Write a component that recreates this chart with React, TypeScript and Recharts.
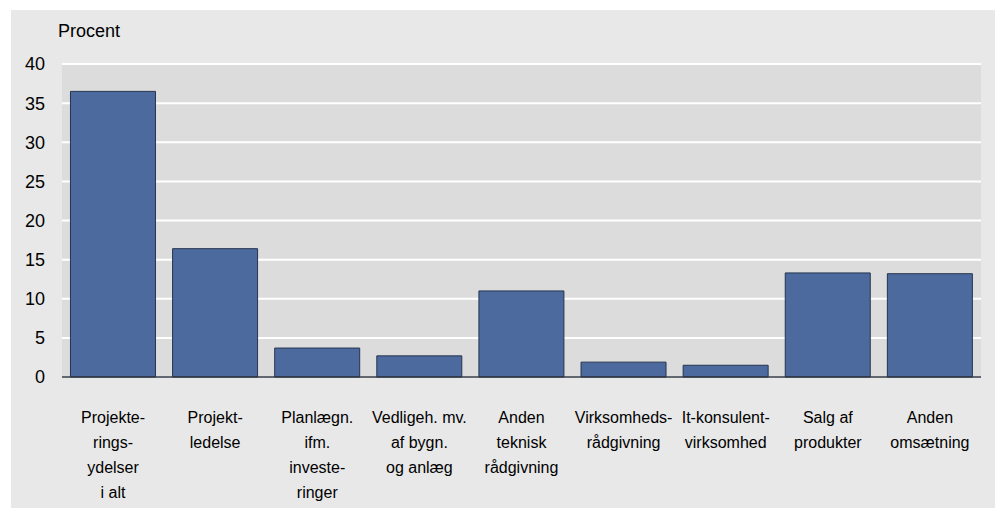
import { BarChart, Bar, XAxis, YAxis, CartesianGrid } from 'recharts';

// Categories (line breaks as in the source figure)
const categories = [
  'Projekte-\nrings-\nydelser\ni alt',
  'Projekt-\nledelse',
  'Planlægn.\nifm.\ninveste-\nringer',
  'Vedligeh. mv.\naf bygn.\nog anlæg',
  'Anden\nteknisk\nrådgivning',
  'Virksomheds-\nrådgivning',
  'It-konsulent-\nvirksomhed',
  'Salg af\nprodukter',
  'Anden\nomsætning',
];

// Share of turnover, percent
const shares = [36.5, 16.4, 3.7, 2.7, 11.0, 1.9, 1.5, 13.3, 13.2];

const yTicks = [0, 5, 10, 15, 20, 25, 30, 35, 40];

const data = categories.map((name, i) => ({ name, value: shares[i] }));

const FONT = '"Liberation Sans", Arial, sans-serif';

const COLORS = {
  panel: '#e8e8e8',
  plot: '#dcdcdc',
  bar: '#4d6a9f',
  barEdge: '#25344f',
  axis: '#2e3440',
  text: '#000000',
};

// Multi-line category label under each bar
const CategoryTick = ({ x, y, payload }: any) => {
  const lines = String(payload.value).split('\n');
  return (
    <text x={x} y={y + 46} textAnchor="middle" fontSize={16} fontFamily={FONT} fill={COLORS.text}>
      {lines.map((line, i) => (
        <tspan key={i} x={x} dy={i === 0 ? 0 : 25}>
          {line}
        </tspan>
      ))}
    </text>
  );
};

export default function App() {
  return (
    <div
      style={{
        position: 'absolute',
        left: 11,
        top: 10,
        width: 984,
        height: 498,
        background: COLORS.panel,
        fontFamily: FONT,
      }}
    >
      <div
        style={{
          position: 'absolute',
          left: 47,
          top: 12,
          fontSize: 18,
          lineHeight: '18px',
          color: COLORS.text,
        }}
      >
        Procent
      </div>
      <BarChart
        width={984}
        height={498}
        data={data}
        margin={{ top: 54, right: 14, left: 0, bottom: 0 }}
        barCategoryGap="8.3%"
      >
        <CartesianGrid vertical={false} stroke="#ffffff" strokeWidth={2} fill={COLORS.plot} />
        <XAxis
          dataKey="name"
          interval={0}
          height={131}
          tickSize={0}
          tickMargin={0}
          tick={<CategoryTick />}
          axisLine={{ stroke: COLORS.axis, strokeWidth: 1.5 }}
          tickLine={false}
        />
        <YAxis
          width={51}
          domain={[0, 40]}
          ticks={yTicks}
          interval={0}
          tickSize={0}
          tickMargin={17}
          axisLine={false}
          tickLine={false}
          tick={{ fontSize: 18, fontFamily: FONT, fill: COLORS.text }}
        />
        <Bar
          dataKey="value"
          fill={COLORS.bar}
          stroke={COLORS.barEdge}
          strokeWidth={1}
          isAnimationActive={false}
        />
      </BarChart>
    </div>
  );
}
